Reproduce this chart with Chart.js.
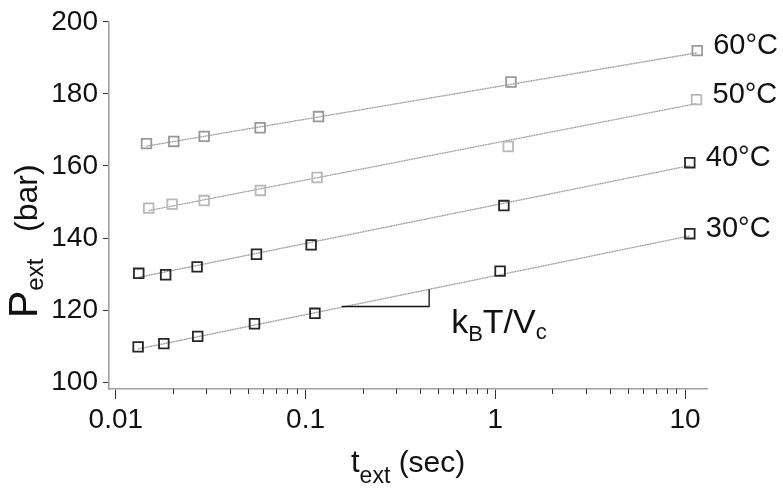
<!DOCTYPE html>
<html>
<head>
<meta charset="utf-8">
<script src="https://cdn.jsdelivr.net/npm/chart.js@4/dist/chart.umd.min.js"></script>
<style>
html,body{margin:0;padding:0;background:#fff;}
canvas{display:block;}
</style>
</head>
<body>
<canvas id="c" width="783" height="491"></canvas>
<script>
// ---- data ----
const seriesLabels = ['30°C', '40°C', '50°C', '60°C'];
const t30 = [0.0131, 0.0179, 0.0270, 0.0538, 0.112, 1.06, 10.6];
const p30 = [109.8, 110.7, 112.7, 116.2, 119.1, 130.8, 141.2];
const t40 = [0.0132, 0.0183, 0.0268, 0.0551, 0.107, 1.11, 10.6];
const p40 = [130.2, 129.8, 132.0, 135.5, 138.1, 149.0, 160.9];
const t50 = [0.0149, 0.0198, 0.0292, 0.0578, 0.115, 1.17, 11.5];
const p50 = [148.3, 149.4, 150.4, 153.2, 156.8, 165.4, 178.4];
const t60 = [0.0145, 0.0202, 0.0292, 0.0576, 0.117, 1.21, 11.6];
const p60 = [166.2, 166.8, 168.2, 170.6, 173.7, 183.3, 192.0];
// fitted lines (end points)
const fit30T = [0.0131, 10.6], fit30P = [109.2, 140.6];
const fit40T = [0.0132, 10.6], fit40P = [129.1, 160.1];
const fit50T = [0.0149, 11.5], fit50P = [147.6, 177.3];
const fit60T = [0.0145, 11.6], fit60P = [165.5, 191.4];
// slope triangle
const slopeT = [0.155, 0.448, 0.448];
const slopeP = [121.0, 121.0, 125.8];
// ticks
const yTicks = [100, 120, 140, 160, 180, 200];
const xDecades = [0.01, 0.1, 1, 10];

const FONT = "'Liberation Sans', Arial, Helvetica, sans-serif";
const pts = (T, P) => T.map((t, i) => ({x: t, y: P[i]}));

const markerColors = ['#262626', '#262626', '#b8b8b8', '#989898'];
const allT = [t30, t40, t50, t60], allP = [p30, p40, p50, p60];
const fitT = [fit30T, fit40T, fit50T, fit60T], fitP = [fit30P, fit40P, fit50P, fit60P];

const datasets = [];
for (let i = 0; i < 4; i++) {
  datasets.push({
    label: 'fit solid ' + seriesLabels[i], data: pts(fitT[i], fitP[i]), showLine: true,
    borderColor: '#cdcdcd', borderWidth: 1.4, pointRadius: 0, order: 5
  });
  datasets.push({
    label: 'fit dot ' + seriesLabels[i], data: pts(fitT[i], fitP[i]), showLine: true,
    borderColor: '#858585', borderWidth: 1, borderDash: [1, 1.6], pointRadius: 0, order: 4
  });
}
for (let i = 0; i < 4; i++) {
  datasets.push({
    label: seriesLabels[i], data: pts(allT[i], allP[i]), showLine: false,
    pointStyle: 'rect', pointRadius: 6.8, pointBorderWidth: 1.8,
    pointBorderColor: markerColors[i], pointBackgroundColor: 'rgba(0,0,0,0)', order: 1
  });
}
datasets.push({
  label: 'slope', data: pts(slopeT, slopeP), showLine: true,
  borderColor: '#111', borderWidth: 1.3, pointRadius: 0, order: 2
});

const isDecade = v => xDecades.some(d => Math.abs(v - d) / d < 1e-6);

const textPlugin = {
  id: 'texts',
  afterDraw(chart) {
    const ctx = chart.ctx;
    const xs = chart.scales.x, ys = chart.scales.y;
    ctx.save();
    // minor x ticks
    ctx.strokeStyle = '#333';
    ctx.lineWidth = 1;
    xs.ticks.forEach(tk => {
      if (!isDecade(tk.value)) {
        const px = Math.round(xs.getPixelForValue(tk.value)) + 0.5;
        ctx.beginPath();
        ctx.moveTo(px, xs.top);
        ctx.lineTo(px, xs.top + 5);
        ctx.stroke();
      }
    });
    ctx.fillStyle = '#111';
    // series labels
    ctx.textBaseline = 'middle';
    ctx.textAlign = 'left';
    ctx.font = '29px ' + FONT;
    for (let i = 0; i < 4; i++) {
      const T = allT[i], P = allP[i];
      const n = T.length - 1;
      const px = xs.getPixelForValue(T[n]);
      const py = ys.getPixelForValue(P[n]);
      ctx.fillText(seriesLabels[i], px + 16, py - 5);
    }
    // kBT/Vc label
    ctx.textBaseline = 'alphabetic';
    let ax = xs.getPixelForValue(slopeT[1]) + 22;
    let ay = ys.getPixelForValue(slopeP[0]) + 27;
    const parts = [['k', 34, 0], ['B', 22, 8], ['T/V', 34, 0], ['c', 22, 6]];
    parts.forEach(([s, f, dy]) => {
      ctx.font = f + 'px ' + FONT;
      ctx.fillText(s, ax, ay + dy);
      ax += ctx.measureText(s).width;
    });
    // x title
    let tx = 351, ty = 472;
    [['t', 31, 0], ['ext', 23, 11], [' (sec)', 30, 0]].forEach(([s, f, dy]) => {
      ctx.font = f + 'px ' + FONT;
      ctx.fillText(s, tx, ty + dy);
      tx += ctx.measureText(s).width;
    });
    // y title (rotated)
    ctx.translate(37, 318);
    ctx.rotate(-Math.PI / 2);
    let lx = 0;
    [['P', 41, 0], ['ext', 24, 6], ['   (bar)', 32, 0]].forEach(([s, f, dy]) => {
      ctx.font = f + 'px ' + FONT;
      ctx.fillText(s, lx, dy);
      lx += ctx.measureText(s).width;
    });
    ctx.restore();
  }
};

new Chart(document.getElementById('c'), {
  type: 'scatter',
  data: {datasets},
  options: {
    responsive: false,
    animation: false,
    devicePixelRatio: 1,
    layout: {padding: {left: 0, top: 18, right: 76, bottom: 0}},
    plugins: {legend: {display: false}, tooltip: {enabled: false}},
    scales: {
      x: {
        type: 'logarithmic',
        min: 0.0092, max: 13.06,
        afterBuildTicks(scale) {
          const ticks = [];
          xDecades.forEach(d => {
            for (let m = 1; m <= 9; m++) {
              const v = d * m;
              if (v >= scale.min && v <= scale.max) ticks.push({value: v});
            }
          });
          scale.ticks = ticks;
        },
        afterFit(scale) { scale.height = 491 - 389; },
        border: {display: true, color: '#a0a0a0', width: 1.6},
        grid: {
          drawOnChartArea: false, drawTicks: true, tickLength: 10, tickWidth: 1,
          tickColor: c => (c.tick && isDecade(c.tick.value)) ? '#333' : 'rgba(0,0,0,0)'
        },
        ticks: {
          autoSkip: false, maxRotation: 0, padding: 4, color: '#111',
          font: {family: FONT, size: 28},
          callback: v => isDecade(v) ? String(v) : ''
        }
      },
      y: {
        min: 98.1, max: 200,
        afterBuildTicks(scale) { scale.ticks = yTicks.map(v => ({value: v})); },
        afterFit(scale) { scale.width = 109; },
        border: {display: true, color: '#a0a0a0', width: 1.6},
        grid: {drawOnChartArea: false, drawTicks: true, tickLength: 6, tickColor: '#333', tickWidth: 1},
        ticks: {padding: 5, color: '#111', font: {family: FONT, size: 28}}
      }
    }
  },
  plugins: [textPlugin]
});
</script>
</body>
</html>
